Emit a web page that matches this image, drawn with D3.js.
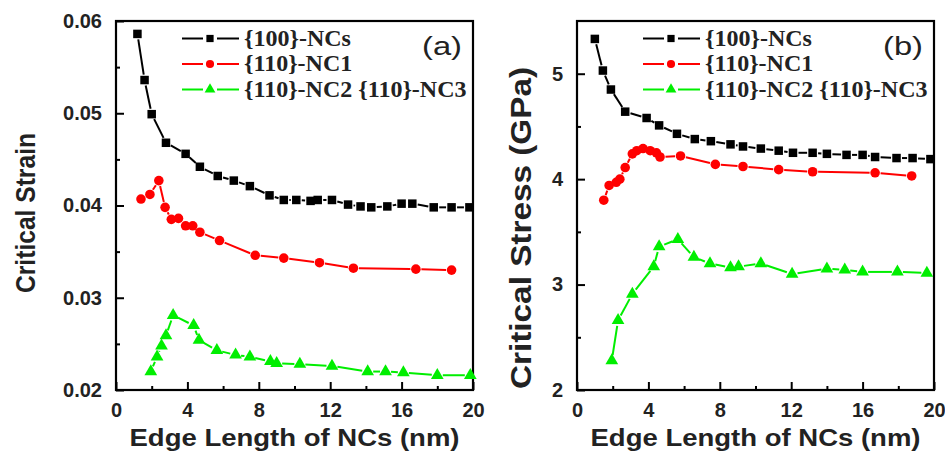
<!DOCTYPE html>
<html lang="en">
<head>
    <meta charset="UTF-8">
    <title>Critical strain and stress vs edge length</title>
    <script src="https://d3js.org/d3.v7.min.js"></script>
    <style>
        body {
            margin: 0;
            background: #fff;
            font-family: 'Liberation Sans', Arial, sans-serif;
        }
        .tick text {
            font-family: 'Liberation Sans', Arial, sans-serif;
            font-weight: bold;
            font-size: 20px;
            fill: #222;
        }
        .legend text {
            font-family: 'Liberation Serif', 'Times New Roman', serif;
            font-weight: bold;
            font-size: 24px;
            fill: #222;
        }
        .title {
            font-weight: bold;
            fill: #222;
        }
    </style>
</head>
<body>
    <script>
        // Panel (a): critical strain
        const strainBlackX = [1.2, 1.6, 2.0, 2.8, 3.9, 4.7, 5.7, 6.6, 7.5, 8.6, 9.4, 10.1, 10.9, 11.3, 12.1, 13.0, 13.7, 14.3, 15.2, 16.0, 16.6, 17.8, 18.8, 19.8];
        const strainBlackY = [0.0586, 0.0536, 0.0499, 0.0468, 0.0456, 0.0442, 0.0432, 0.0427, 0.0421, 0.0411, 0.0406, 0.0406, 0.0405, 0.0406, 0.0406, 0.0401, 0.0399, 0.0398, 0.0399, 0.0402, 0.0402, 0.0398, 0.0398, 0.0398];
        const strainRedX = [1.4, 1.9, 2.4, 2.75, 3.1, 3.5, 3.9, 4.3, 4.7, 5.8, 7.8, 9.4, 11.4, 13.3, 16.8, 18.8];
        const strainRedY = [0.0407, 0.0412, 0.0427, 0.0398, 0.0385, 0.0386, 0.0378, 0.0378, 0.0371, 0.0362, 0.0346, 0.0343, 0.0338, 0.0332, 0.0331, 0.0330];
        const strainGreenX = [1.95, 2.3, 2.55, 2.8, 3.2, 4.35, 4.65, 5.65, 6.7, 7.5, 8.65, 9.0, 10.3, 12.1, 14.1, 15.1, 16.1, 18.0, 19.85];
        const strainGreenY = [0.0220, 0.0236, 0.0248, 0.0259, 0.0281, 0.0270, 0.0254, 0.0243, 0.0238, 0.0236, 0.0231, 0.0229, 0.0228, 0.0226, 0.0220, 0.0220, 0.0219, 0.0216, 0.0216];

        // Panel (b): critical stress (GPa)
        const stressBlackX = [1.0, 1.45, 1.9, 2.7, 3.9, 4.6, 5.6, 6.6, 7.5, 8.6, 9.3, 10.3, 11.3, 12.1, 13.2, 14.0, 15.1, 16.0, 16.7, 17.9, 18.8, 19.8];
        const stressBlackY = [5.33, 5.03, 4.85, 4.64, 4.58, 4.51, 4.43, 4.38, 4.36, 4.33, 4.31, 4.29, 4.27, 4.25, 4.25, 4.24, 4.23, 4.23, 4.21, 4.20, 4.20, 4.19];
        const stressRedX = [1.5, 1.8, 2.2, 2.4, 2.7, 3.1, 3.35, 3.7, 4.1, 4.45, 4.65, 5.8, 7.75, 9.3, 11.3, 13.2, 16.7, 18.75];
        const stressRedY = [3.80, 3.94, 3.97, 4.00, 4.11, 4.24, 4.27, 4.29, 4.27, 4.25, 4.21, 4.22, 4.14, 4.12, 4.09, 4.07, 4.06, 4.03];
        const stressGreenX = [1.95, 2.3, 3.1, 4.3, 4.6, 5.65, 6.55, 7.45, 8.6, 9.05, 10.3, 12.05, 14.0, 15.0, 16.0, 17.95, 19.6];
        const stressGreenY = [2.28, 2.66, 2.91, 3.17, 3.36, 3.43, 3.26, 3.20, 3.16, 3.17, 3.20, 3.10, 3.15, 3.14, 3.12, 3.12, 3.11];

        const xTicks = [0, 4, 8, 12, 16, 20];
        const xMinorTicks = [2, 6, 10, 14, 18];
        const strainTicks = [0.02, 0.03, 0.04, 0.05, 0.06];
        const strainMinorTicks = [0.025, 0.035, 0.045, 0.055];
        const stressTicks = [2, 3, 4, 5];
        const stressMinorTicks = [2.5, 3.5, 4.5];

        const legendLabels = ["{100}-NCs", "{110}-NC1", "{110}-NC2 {110}-NC3"];
        const colors = ["#000000", "#ff0000", "#00ee00"];

        const svg = d3.select("body")
            .append("svg")
            .attr("width", 945)
            .attr("height", 452);

        function drawPanel(opt) {
            const x = d3.scaleLinear().domain([0, 20]).range([opt.left, opt.right]);
            const y = d3.scaleLinear().domain(opt.yDomain).range([390, 21]);

            const g = svg.append("g");

            // minor ticks
            g.append("g")
                .attr("transform", "translate(0,390)")
                .call(d3.axisBottom(x).tickValues(xMinorTicks).tickSize(-4).tickFormat(""))
                .call(a => a.select(".domain").remove());
            g.append("g")
                .attr("transform", `translate(${opt.left},0)`)
                .call(d3.axisLeft(y).tickValues(opt.yMinor).tickSize(-4).tickFormat(""))
                .call(a => a.select(".domain").remove());

            // major ticks
            g.append("g")
                .attr("transform", "translate(0,390)")
                .call(d3.axisBottom(x).tickValues(xTicks).tickSize(-8).tickPadding(13).tickFormat(d3.format("d")))
                .call(a => a.select(".domain").remove());
            g.append("g")
                .attr("transform", `translate(${opt.left},0)`)
                .call(d3.axisLeft(y).tickValues(opt.yTicks).tickSize(-8).tickPadding(14).tickFormat(opt.yFormat))
                .call(a => a.select(".domain").remove());

            g.selectAll(".tick line").attr("stroke", "#000").attr("stroke-width", 2);

            // frame
            g.append("rect")
                .attr("x", opt.left).attr("y", 21)
                .attr("width", opt.right - opt.left).attr("height", 369)
                .attr("fill", "none").attr("stroke", "#000").attr("stroke-width", 2.2);

            // lines broken around each marker, then markers
            opt.series.forEach((s, i) => {
                const pts = s.x.map((v, j) => [x(v), y(s.y[j])]);
                drawGappedLine(g, pts, colors[i], 5.5);
                drawMarkers(g, pts, i, 1);
            });

            // legend
            const leg = g.append("g").attr("class", "legend");
            legendLabels.forEach((lab, i) => {
                const ly = 38.5 + i * 25.5;
                const lx = opt.left + 66;
                leg.append("line").attr("x1", lx).attr("x2", lx + 21).attr("y1", ly).attr("y2", ly)
                    .attr("stroke", colors[i]).attr("stroke-width", 2);
                leg.append("line").attr("x1", lx + 35).attr("x2", lx + 57).attr("y1", ly).attr("y2", ly)
                    .attr("stroke", colors[i]).attr("stroke-width", 2);
                drawMarkers(leg, [[lx + 28, ly]], i, 0.85);
                leg.append("text").attr("x", lx + 62).attr("y", ly + 7).text(lab);
            });

            g.append("text")
                .attr("x", opt.right - 51).attr("y", 55)
                .attr("textLength", 40).attr("lengthAdjust", "spacingAndGlyphs")
                .style("font-size", "25px").style("fill", "#222")
                .text(opt.tag);

            // axis titles
            g.append("text")
                .attr("class", "title")
                .attr("x", (opt.left + opt.right) / 2).attr("y", 446)
                .attr("text-anchor", "middle")
                .attr("textLength", 330).attr("lengthAdjust", "spacingAndGlyphs")
                .style("font-size", "24px")
                .text("Edge Length of NCs (nm)");
            g.append("text")
                .attr("class", "title")
                .attr("transform", `translate(${opt.yTitle.x},${opt.yTitle.y}) rotate(-90)`)
                .attr("x", -opt.yTitle.len / 2)
                .attr("textLength", opt.yTitle.len).attr("lengthAdjust", "spacingAndGlyphs")
                .style("font-size", opt.yTitle.size + "px")
                .text(opt.yTitle.text);
        }

        function drawGappedLine(g, pts, color, gap) {
            for (let j = 1; j < pts.length; j++) {
                const [x1, y1] = pts[j - 1], [x2, y2] = pts[j];
                const len = Math.hypot(x2 - x1, y2 - y1);
                if (len <= 2 * gap) continue;
                const ux = (x2 - x1) / len, uy = (y2 - y1) / len;
                g.append("line")
                    .attr("x1", x1 + ux * gap).attr("y1", y1 + uy * gap)
                    .attr("x2", x2 - ux * gap).attr("y2", y2 - uy * gap)
                    .attr("stroke", color).attr("stroke-width", 2);
            }
        }

        function drawMarkers(g, pts, i, k) {
            if (i === 0) {
                const s = 8.5 * k;
                g.selectAll(null).data(pts).enter().append("rect")
                    .attr("x", d => d[0] - s / 2).attr("y", d => d[1] - s / 2)
                    .attr("width", s).attr("height", s)
                    .attr("fill", colors[i]);
            } else if (i === 1) {
                g.selectAll(null).data(pts).enter().append("circle")
                    .attr("cx", d => d[0]).attr("cy", d => d[1]).attr("r", 4.8 * k)
                    .attr("fill", colors[i]);
            } else {
                const tri = d3.symbol().type(d3.symbolTriangle).size(70 * k * k);
                g.selectAll(null).data(pts).enter().append("path")
                    .attr("d", tri)
                    .attr("transform", d => `translate(${d[0]},${d[1]})`)
                    .attr("fill", colors[i]);
            }
        }

        drawPanel({
            left: 116, right: 473,
            yDomain: [0.02, 0.06],
            yTicks: strainTicks, yMinor: strainMinorTicks,
            yFormat: d3.format(".2f"),
            yTitle: {text: "Critical Strain", x: 35, y: 213, len: 160, size: 28},
            tag: "(a)",
            series: [
                {x: strainBlackX, y: strainBlackY},
                {x: strainRedX, y: strainRedY},
                {x: strainGreenX, y: strainGreenY}
            ]
        });

        drawPanel({
            left: 577, right: 934,
            yDomain: [2, 5.5],
            yTicks: stressTicks, yMinor: stressMinorTicks,
            yFormat: d3.format("d"),
            yTitle: {text: "Critical Stress (GPa)", x: 531, y: 228, len: 322, size: 29},
            tag: "(b)",
            series: [
                {x: stressBlackX, y: stressBlackY},
                {x: stressRedX, y: stressRedY},
                {x: stressGreenX, y: stressGreenY}
            ]
        });
    </script>
</body>
</html>
